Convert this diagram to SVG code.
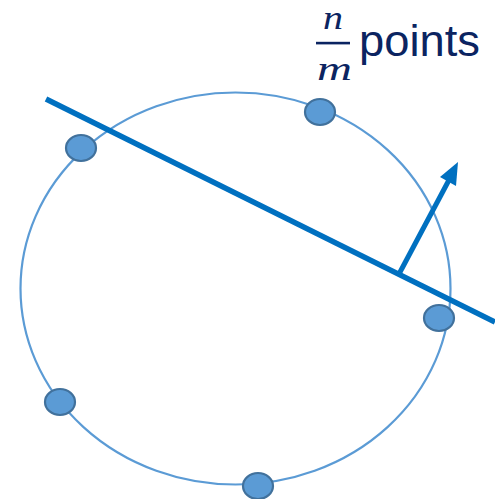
<svg xmlns="http://www.w3.org/2000/svg" width="495" height="499" viewBox="0 0 495 499">
<defs>
<style>
.pt{fill:#5B9BD5;stroke:#41719C;stroke-width:2.2}
.txt{fill:#0B2461}
.mth{font-family:"Liberation Serif",serif;font-style:italic;font-size:33px}
</style>
</defs>
<rect width="495" height="499" fill="#fff"/>
<g id="circle"><ellipse cx="235.5" cy="288.5" rx="215" ry="196" fill="none" stroke="#5B9BD5" stroke-width="2.2"/></g>
<g id="connectors">
<line x1="46" y1="99" x2="495" y2="322" stroke="#0070C0" stroke-width="5.5"/>
<line x1="399" y1="274" x2="449" y2="180" stroke="#0070C0" stroke-width="5"/>
<polygon points="458,162 456,186 440,177" fill="#0070C0"/>
</g>
<g id="p1"><ellipse class="pt" cx="320" cy="112" rx="15" ry="13"/></g>
<g id="p2"><ellipse class="pt" cx="81" cy="148" rx="15" ry="13"/></g>
<g id="p3"><ellipse class="pt" cx="439" cy="318" rx="15" ry="13"/></g>
<g id="p4"><ellipse class="pt" cx="60" cy="402" rx="15" ry="13"/></g>
<g id="p5"><ellipse class="pt" cx="258" cy="486" rx="15" ry="13"/></g>
<g id="label">
<text class="txt mth" x="323" y="29" textLength="20" lengthAdjust="spacingAndGlyphs">n</text>
<rect class="txt" x="316" y="41.8" width="34" height="2.6"/>
<text class="txt mth" x="317" y="80" textLength="35" lengthAdjust="spacingAndGlyphs">m</text>
<text class="txt" x="359" y="56" font-family="Liberation Sans, Arial, sans-serif" font-size="44" textLength="121" lengthAdjust="spacingAndGlyphs">points</text>
</g>
</svg>
